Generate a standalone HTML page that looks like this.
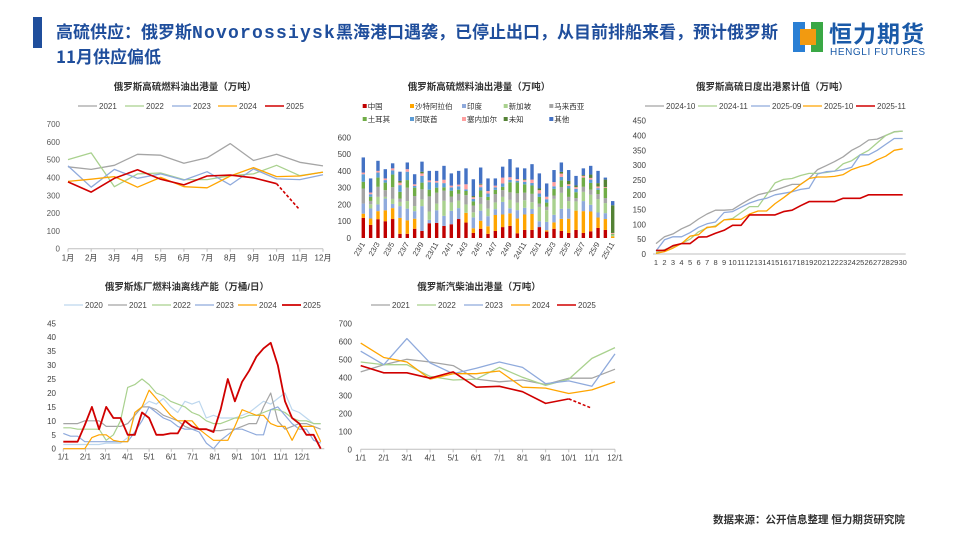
<!DOCTYPE html>
<html><head><meta charset="utf-8">
<style>
body{margin:0;width:960px;height:540px;background:#fff;overflow:hidden;position:relative;font-family:"Liberation Sans","Noto Sans CJK SC",sans-serif;}
#title{position:absolute;left:56px;top:20px;font-size:17px;font-weight:bold;color:#1f4e9c;line-height:22px;white-space:nowrap;font-family:"Noto Sans CJK SC","Liberation Sans",sans-serif;}
#title .lat{font-family:"Liberation Mono",monospace;font-size:18px;letter-spacing:1.2px;}
#bar{position:absolute;left:33px;top:17px;width:9px;height:31px;background:#1f4e9c;}
#foot{position:absolute;left:713px;top:512px;font-size:10.5px;font-weight:bold;color:#333;}
svg{position:absolute;left:0;top:0;}
svg text{font-family:"Liberation Sans","Noto Sans CJK SC",sans-serif;}
</style></head><body>
<div id="bar"></div>
<div id="title">高硫供应：俄罗斯<span class="lat">Novorossiysk</span>黑海港口遇袭，已停止出口，从目前排船来看，预计俄罗斯<br>11月供应偏低</div>
<div style="position:absolute;left:793px;top:22px;width:30px;height:30px;">
  <div style="position:absolute;left:0;top:0;width:12px;height:30px;background:#2a7fd4;"></div>
  <div style="position:absolute;left:18px;top:0;width:12px;height:30px;background:#3aa845;"></div>
  <div style="position:absolute;left:7px;top:7px;width:16px;height:16px;background:#f29a10;"></div>
</div>
<div style="position:absolute;left:829px;top:19px;font-size:23px;line-height:26px;color:#1a5aa8;letter-spacing:1px;font-family:'Noto Sans CJK SC',sans-serif;font-weight:bold;">恒力期货</div>
<div style="position:absolute;left:830px;top:47px;font-size:10px;line-height:12px;color:#1a5aa8;letter-spacing:0.6px;">HENGLI FUTURES</div>
<div id="foot">数据来源：公开信息整理  恒力期货研究院</div>
<svg id="svg" width="960" height="540"></svg>
<script>
// ---- Chart 1: fuel oil exports monthly
const c1Months=["1月","2月","3月","4月","5月","6月","7月","8月","9月","10月","11月","12月"];
const c1Ticks=[0,100,200,300,400,500,600,700];
const c1Names=["2021","2022","2023","2024","2025"];
const c1_2021=[460,445,468,530,525,480,510,590,495,530,485,465];
const c1_2022=[500,538,348,420,425,388,388,410,420,468,410,430];
const c1_2023=[465,345,445,395,420,385,432,358,448,392,388,415];
const c1_2024=[378,390,405,345,400,348,342,408,455,405,408,430];
const c1_2025=[375,318,395,443,390,358,408,413,398,365];
const c1_2025fc=[365,218];
// ---- Chart 2: stacked bars by destination
const c2Cats=["23/1","23/2","23/3","23/4","23/5","23/6","23/7","23/8","23/9","23/10","23/11","23/12","24/1","24/2","24/3","24/4","24/5","24/6","24/7","24/8","24/9","24/10","24/11","24/12","25/1","25/2","25/3","25/4","25/5","25/6","25/7","25/8","25/9","25/10","25/11"];
const c2Ticks=[0,100,200,300,400,500,600];
const c2Series=["中国","沙特阿拉伯","印度","新加坡","马来西亚","土耳其","阿联酋","塞内加尔","未知","其他"];
const c2China=[120,78,112,100,113,25,25,55,42,88,90,72,82,113,92,30,55,25,42,65,72,28,48,48,65,38,55,42,30,48,30,40,60,48,0];
const c2Saudi=[25,38,48,65,65,95,80,60,0,0,0,0,0,0,58,28,48,45,95,75,75,88,92,95,0,8,38,72,85,115,130,118,62,65,10];
const c2India=[60,60,40,70,25,70,70,45,148,20,75,60,80,65,0,65,60,60,35,75,30,50,40,30,35,50,45,60,60,0,60,40,30,35,0];
const c2Sing=[0,25,45,10,30,25,45,30,40,50,40,90,50,45,50,30,40,45,40,30,50,45,45,40,85,70,95,95,45,55,55,60,80,60,10];
const c2Malay=[90,20,60,40,70,20,80,60,60,90,65,60,35,40,55,40,40,50,50,40,45,55,45,50,20,20,20,35,25,20,30,30,30,30,0];
const c2Turkey=[40,25,55,45,75,40,45,50,40,40,30,20,35,25,25,25,40,20,25,20,60,65,50,50,40,25,40,40,50,35,55,40,25,60,5];
const c2Uae=[45,15,30,15,25,40,50,10,40,45,30,25,20,20,10,15,20,20,15,20,15,10,15,15,20,20,15,20,15,20,0,20,10,0,0];
const c2Seneg=[10,10,10,10,12,15,15,10,15,10,10,20,10,10,30,10,15,15,10,35,15,10,10,20,20,15,25,20,10,10,10,10,10,5,5];
const c2Unknown=[0,0,0,0,0,10,0,0,10,0,0,0,0,0,0,7,5,0,0,0,0,0,5,0,10,0,0,10,20,10,5,20,20,45,165];
const c2Other=[90,84,60,55,30,55,40,60,60,57,60,83,73,82,95,100,97,75,43,65,108,69,65,92,90,79,72,56,65,57,40,52,73,12,25];
// ---- Chart 3: daily cumulative
const c3Days=[1,2,3,4,5,6,7,8,9,10,11,12,13,14,15,16,17,18,19,20,21,22,23,24,25,26,27,28,29,30];
const c3Ticks=[0,50,100,150,200,250,300,350,400,450];
const c3Names=["2024-10","2024-11","2025-09","2025-10","2025-11"];
const c3_2410=[35,58,68,85,98,118,135,148,148,150,168,185,200,207,215,225,235,235,255,285,298,312,328,350,365,385,388,400,413,415];
const c3_2411=[5,15,25,35,50,75,88,95,115,120,140,160,160,200,240,252,255,265,272,272,275,280,305,315,335,350,375,400,412,415];
const c3_2509=[10,48,58,58,72,90,102,108,140,143,158,172,182,188,200,205,210,218,222,270,278,280,285,293,335,335,350,370,390,390];
const c3_2510=[2,8,20,35,60,65,90,92,115,117,117,135,145,145,170,190,212,235,255,260,260,262,268,285,295,302,318,330,350,355];
const c3_2511=[12,12,28,35,35,57,58,70,80,97,97,132,132,132,132,143,148,163,177,177,177,177,188,188,188,200,200,200,200,200];
// ---- Chart 4: refinery offline capacity (10-day steps, day 0..360)
const c4Days=[0,10,20,30,40,50,60,70,80,90,100,110,120,130,140,150,160,170,180,190,200,210,220,230,240,250,260,270,280,290,300,310,320,330,340,350,360];
const c4Labels=["1/1","2/1","3/1","4/1","5/1","6/1","7/1","8/1","9/1","10/1","11/1","12/1"];
const c4LabelDays=[0,31,59,90,120,151,181,212,243,273,304,334];
const c4Ticks=[0,5,10,15,20,25,30,35,40,45];
const c4Names=["2020","2021","2022","2023","2024","2025"];
const c4_2020=[1.5,1.5,1.5,1.5,1.5,1.5,2,2,2,4,12,15,17,16,18,15,13,17,16,17,11,12,11,11,11,12,13,15,17,16,18,20,14,13,11,9,9];
const c4_2021=[9,9,9,10,10,10,8,8,8,9,12,15,15,14,12,11,10,8,7,7,7,6.5,6.5,7,7,8,9,9,15,20,10,7,8,9,9,8,7];
const c4_2022=[7.5,7.5,7,7,7,7,3,5,10,22,23,25,23,20,19,17,16,15,13,12,10,9,9,10,11,11,12,12,13,14,14,13,11,10,10,9,9];
const c4_2023=[5.5,4.5,4.5,2.5,2.5,2.5,2.5,2.5,2.5,2.5,6,10,15,13,11,10,8,7,7,6,2,0,3,5,7,7,6,5,5,14,15,12,9,7,7,3,2];
const c4_2024=[0,0,0,0,4,5,5,3,2.5,2.5,13,15,21,18,15,12,10,10,10,7,5,3,3,3,8,14,13,12,12,9,8,8,3,8,8,8,2.5];
const c4_2025=[2.5,2.5,2.5,8.5,15,7,15,11,11,5,5,13,11,5,5,5.5,5.5,10,8,7,7,6,14,25,17,24,28,33,36,38,30,17,11,9,5,5,0];
// ---- Chart 5: diesel exports
const c5Months=["1/1","2/1","3/1","4/1","5/1","6/1","7/1","8/1","9/1","10/1","11/1","12/1"];
const c5Ticks=[0,100,200,300,400,500,600,700];
const c5Names=["2021","2022","2023","2024","2025"];
const c5_2021=[430,470,500,485,465,390,375,385,360,395,395,445];
const c5_2022=[485,470,470,405,385,390,455,400,355,390,505,565];
const c5_2023=[545,470,615,480,420,450,485,455,365,380,350,530];
const c5_2024=[590,510,485,390,420,420,435,345,340,310,330,375];
const c5_2025=[465,425,425,395,430,345,350,320,255,280];
const c5_2025fc=[280,228];

const NS="http://www.w3.org/2000/svg";
const svg=document.getElementById('svg');
function mk(tag,attrs,parent){const e=document.createElementNS(NS,tag);for(const k in attrs)e.setAttribute(k,attrs[k]);(parent||svg).appendChild(e);return e;}
function txt(x,y,s,size,anchor,fill,parent,weight){const t=mk('text',{x:x,y:y,'font-size':size,'text-anchor':anchor||'middle',fill:fill||'#404040'},parent);if(weight)t.setAttribute('font-weight',weight);t.textContent=s;return t;}
const GRAY='#a5a5a5',GREEN='#a9d18e',BLUE='#8faadc',ORANGE='#ffa500',RED='#d00000',LBLUE='#bdd7ee';

function legendLine(g,x,y,color,label,w,len){
  const l=mk('line',{x1:x,y1:y,x2:x+len,y2:y,stroke:color,'stroke-width':w},g);
  
  
  const t=txt(x+len+2,y+3,label,8,'start','#404040',g);
  
  
}
function polyline(g,xs,ys,color,w,dash,name){
  let d='';for(let i=0;i<xs.length;i++)d+=(i?'L':'M')+xs[i].toFixed(1)+','+ys[i].toFixed(1);
  const p=mk('path',{d:d,fill:'none',stroke:color,'stroke-width':w,'stroke-linejoin':'round'},g);
  if(dash)p.setAttribute('stroke-dasharray',dash);
  
  
}

// ===== Chart 1 =====
(function(){
  const g=mk('g',{});
  
  
  const x0=68,x1=323,y0=248.7,yTop=124,max=700;
  const X=i=>x0+i*(x1-x0)/(c1Months.length-1), Y=v=>y0-v/max*(y0-yTop);
  txt(185,90,'俄罗斯高硫燃料油出港量（万吨）',9.5,'middle','#333',g,'bold');
  c1Ticks.forEach(v=>txt(60,Y(v)+3,String(v),8,'end','#595959',g));
  mk('line',{x1:x0,y1:y0,x2:x1,y2:y0,stroke:'#bfbfbf','stroke-width':1},g);
  c1Months.forEach((m,i)=>{mk('line',{x1:X(i),y1:y0,x2:X(i),y2:y0+3,stroke:'#bfbfbf'},g);txt(X(i),y0+12,m,8,'middle','#404040',g);});
  const series=[c1_2021,c1_2022,c1_2023,c1_2024,c1_2025],cols=[GRAY,GREEN,BLUE,ORANGE,RED];
  const lx=[78,125,172,218,265];
  series.forEach((s,k)=>{polyline(g,s.map((v,i)=>X(i)),s.map(Y),cols[k],k==4?1.6:1.3,null,'line-'+c1Names[k]);legendLine(g,lx[k],106,cols[k],c1Names[k],k==4?1.6:1.3,19);});
  polyline(g,c1_2025fc.map((v,i)=>X(9+i)),c1_2025fc.map(Y),RED,1.6,'3,2','line-2025-forecast');
})();

// ===== Chart 2 =====
(function(){
  const g=mk('g',{});
  
  
  const x0=363.3,x1=612.7,y0=238,yTop=137.3,max=600;
  const X=i=>x0+i*(x1-x0)/(c2Cats.length-1), Y=v=>y0-v/max*(y0-yTop);
  txt(479,90,'俄罗斯高硫燃料油出港量（万吨）',9.5,'middle','#333',g,'bold');
  c2Ticks.forEach(v=>txt(351,Y(v)+3,String(v),8,'end','#404040',g));
  const data=[c2China,c2Saudi,c2India,c2Sing,c2Malay,c2Turkey,c2Uae,c2Seneg,c2Unknown,c2Other];
  const cols=['#c00000','#ffa500','#8faadc','#a9d18e','#a5a5a5','#70ad47','#5b9bd5','#ff9f9f','#548235','#4472c4'];
  c2Cats.forEach((c,i)=>{
    let acc=0;
    data.forEach((arr,k)=>{
      const v=arr[i];if(!v)return;
      const r=mk('rect',{x:X(i)-1.7,y:Y(acc+v),width:3.4,height:Y(acc)-Y(acc+v),fill:cols[k]},g);
      
      
      acc+=v;
    });
    if(i%2==0){const t=txt(X(i)+2,y0+6,c,7.5,'end','#404040',g);t.setAttribute('transform','rotate(-60 '+(X(i)+2)+' '+(y0+6)+')');}
  });
  const lxs=[366.7,414,466,507.7,553.3];
  c2Series.forEach((s,k)=>{
    const x=lxs[k%5],y=k<5?107:120;
    const r=mk('rect',{x:x-4,y:y-3,width:4,height:4,fill:cols[k]},g);
    
    
    txt(x+1,y+2,s,7.5,'start','#333',g);
  });
})();

// ===== Chart 3 =====
(function(){
  const g=mk('g',{});
  
  
  const x0=656,x1=902.7,y0=254,yTop=120.7,max=450;
  const X=i=>x0+i*(x1-x0)/(c3Days.length-1), Y=v=>y0-v/max*(y0-yTop);
  txt(772,90,'俄罗斯高硫日度出港累计值（万吨）',9.5,'middle','#333',g,'bold');
  c3Ticks.forEach(v=>txt(646,Y(v)+3,String(v),8,'end','#404040',g));
  mk('line',{x1:x0-3,y1:y0,x2:x1+3,y2:y0,stroke:'#bfbfbf'},g);
  c3Days.forEach((d,i)=>txt(X(i),y0+11,String(d),7.5,'middle','#404040',g));
  const series=[c3_2410,c3_2411,c3_2509,c3_2510,c3_2511],cols=[GRAY,GREEN,BLUE,ORANGE,RED];
  const lx=[645,698,751,803,856];
  series.forEach((s,k)=>{polyline(g,s.map((v,i)=>X(i)),s.map(Y),cols[k],k==4?1.6:1.3,null,'line-'+c3Names[k]);legendLine(g,lx[k],106,cols[k],c3Names[k],k==4?1.6:1.3,19);});
})();

// ===== Chart 4 =====
(function(){
  const g=mk('g',{});
  
  
  const x0=63.3,xEnd=324.3,y0=448.7,yTop=323.3,max=45;
  const X=d=>x0+d/365*(xEnd-x0), Y=v=>y0-v/max*(y0-yTop);
  txt(187,290,'俄罗斯炼厂燃料油离线产能（万桶/日）',9.5,'middle','#333',g,'bold');
  c4Ticks.forEach(v=>txt(56,Y(v)+3,String(v),8,'end','#404040',g));
  mk('line',{x1:x0,y1:y0,x2:xEnd,y2:y0,stroke:'#bfbfbf'},g);
  c4LabelDays.forEach((d,i)=>{mk('line',{x1:X(d),y1:y0,x2:X(d),y2:y0+3,stroke:'#bfbfbf'},g);txt(X(d),y0+11,c4Labels[i],8,'middle','#404040',g);});
  const series=[c4_2020,c4_2021,c4_2022,c4_2023,c4_2024,c4_2025],cols=[LBLUE,GRAY,GREEN,BLUE,ORANGE,RED];
  const lx=[64,108,152,195,238,282];
  series.forEach((s,k)=>{polyline(g,c4Days.map(X),s.map(Y),cols[k],k==5?1.8:1.2,null,'line-'+c4Names[k]);legendLine(g,lx[k],305,cols[k],c4Names[k],k==5?1.8:1.3,19);});
})();

// ===== Chart 5 =====
(function(){
  const g=mk('g',{});
  
  
  const x0=360.7,x1=615,y0=449.3,yTop=323.3,max=700;
  const X=i=>x0+i*(x1-x0)/(c5Months.length-1), Y=v=>y0-v/max*(y0-yTop);
  txt(479,290,'俄罗斯汽柴油出港量（万吨）',9.5,'middle','#333',g,'bold');
  c5Ticks.forEach(v=>txt(352,Y(v)+3,String(v),8,'end','#404040',g));
  mk('line',{x1:x0,y1:y0,x2:x1,y2:y0,stroke:'#bfbfbf'},g);
  c5Months.forEach((m,i)=>{mk('line',{x1:X(i),y1:y0,x2:X(i),y2:y0+3,stroke:'#bfbfbf'},g);txt(X(i),y0+11,m,8,'middle','#404040',g);});
  const series=[c5_2021,c5_2022,c5_2023,c5_2024,c5_2025],cols=[GRAY,GREEN,BLUE,ORANGE,RED];
  const lx=[371,417,464,511,557];
  series.forEach((s,k)=>{polyline(g,s.map((v,i)=>X(i)),s.map(Y),cols[k],k==4?1.6:1.3,null,'line-'+c5Names[k]);legendLine(g,lx[k],305,cols[k],c5Names[k],k==4?1.6:1.3,19);});
  polyline(g,c5_2025fc.map((v,i)=>X(9+i)),c5_2025fc.map(Y),RED,1.6,'3,2','line-2025-forecast');
})();
</script>
</body></html>
